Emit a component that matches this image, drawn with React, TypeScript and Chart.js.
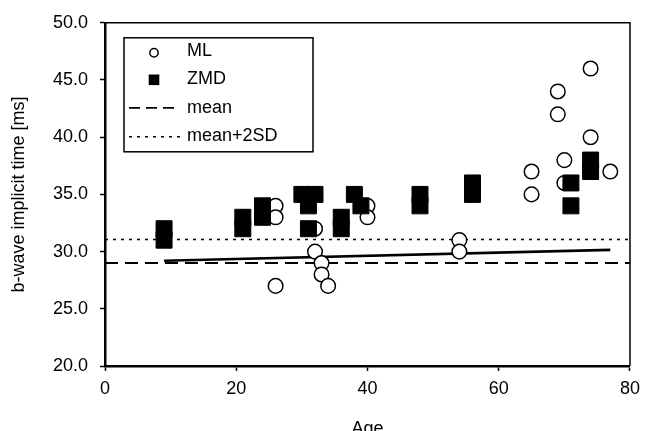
import React, { useEffect, useRef } from 'react';
import { Chart, registerables } from 'chart.js';

Chart.register(...registerables);

// ---- data ----
const mlAge = [26, 26, 26, 32, 32, 33, 33, 34, 40, 40, 54, 54, 65, 65, 69, 69, 70, 70, 74, 74, 77];
const mlTime = [34, 33, 27, 32, 30, 29, 28, 27, 34, 33, 31, 30, 37, 35, 44, 42, 38, 36, 46, 40, 37];

const zmdAge = [9, 9, 21, 21, 24, 24, 30, 32, 31, 31, 36, 36, 38, 39, 48, 48, 56, 56, 71, 71, 74, 74];
const zmdTime = [32, 31, 33, 32, 34, 33, 35, 35, 34, 32, 33, 32, 35, 34, 35, 34, 36, 35, 36, 34, 38, 37];

const meanAge = [0, 80];
const meanTime = [29.0, 29.0];

const sdAge = [0, 80];
const sdTime = [31.05, 31.05];

const fitAge = [9, 77];
const fitTime = [29.2, 30.15];

const seriesLabels = ['ML', 'ZMD', 'mean', 'mean+2SD'];
const xTitle = 'Age';
const yTitle = 'b-wave implicit time [ms]';

const FONT = 'Liberation Sans, Arial, Helvetica, sans-serif';
const FS = 18;

const pts = (xs: number[], ys: number[]) => xs.map((x, i) => ({ x, y: ys[i] }));

const framePlugin = {
  id: 'frame',
  beforeDatasetsDraw(chart: any) {
    const { ctx, chartArea } = chart;
    ctx.save();
    ctx.strokeStyle = '#000';
    ctx.lineWidth = 1.5;
    ctx.beginPath();
    ctx.moveTo(chartArea.left, chartArea.top);
    ctx.lineTo(chartArea.right, chartArea.top);
    ctx.lineTo(chartArea.right, chartArea.bottom);
    ctx.stroke();
    ctx.restore();
  },
};

const legendPlugin = {
  id: 'boxLegend',
  afterDraw(chart: any) {
    const { ctx, chartArea } = chart;
    const x0 = chartArea.left + 19;
    const y0 = chartArea.top + 15;
    const w = 189;
    const h = 114;
    ctx.save();
    ctx.fillStyle = '#fff';
    ctx.fillRect(x0, y0, w, h);
    ctx.strokeStyle = '#000';
    ctx.lineWidth = 1.5;
    ctx.strokeRect(x0, y0, w, h);

    const markerY = [15, 42, 70, 99];
    const textY = [18, 46, 75, 103];
    const mx = x0 + 30;

    // ML circle
    ctx.beginPath();
    ctx.arc(mx, y0 + markerY[0], 4.2, 0, Math.PI * 2);
    ctx.fillStyle = '#fff';
    ctx.fill();
    ctx.lineWidth = 1.5;
    ctx.strokeStyle = '#000';
    ctx.stroke();
    // ZMD square
    ctx.fillStyle = '#000';
    ctx.fillRect(mx - 5.3, y0 + markerY[1] - 5.3, 10.6, 10.6);
    // mean dashed
    ctx.beginPath();
    ctx.setLineDash([11, 6]);
    ctx.lineWidth = 1.8;
    ctx.moveTo(x0 + 5, y0 + markerY[2]);
    ctx.lineTo(x0 + 54, y0 + markerY[2]);
    ctx.stroke();
    // mean+2SD dotted
    ctx.beginPath();
    ctx.setLineDash([3, 5]);
    ctx.lineWidth = 1.5;
    ctx.moveTo(x0 + 5, y0 + markerY[3]);
    ctx.lineTo(x0 + 58, y0 + markerY[3]);
    ctx.stroke();
    ctx.setLineDash([]);

    ctx.fillStyle = '#000';
    ctx.font = `${FS}px ${FONT}`;
    ctx.textAlign = 'left';
    ctx.textBaseline = 'alphabetic';
    seriesLabels.forEach((t, i) => {
      ctx.fillText(t, x0 + 63, y0 + textY[i]);
    });
    ctx.restore();
  },
};

export default function App() {
  const ref = useRef<HTMLCanvasElement | null>(null);

  useEffect(() => {
    if (!ref.current) return;
    const chart = new Chart(ref.current, {
      type: 'scatter',
      data: {
        datasets: [
          {
            label: seriesLabels[0],
            data: pts(mlAge, mlTime),
            pointStyle: 'circle',
            pointRadius: 7.3,
            pointBorderWidth: 1.5,
            pointBackgroundColor: '#fff',
            pointBorderColor: '#000',
            showLine: false,
            order: 1,
          },
          {
            label: seriesLabels[1],
            data: pts(zmdAge, zmdTime),
            pointStyle: 'rect',
            pointRadius: 11.3,
            pointBorderWidth: 1,
            pointBackgroundColor: '#000',
            pointBorderColor: '#000',
            showLine: false,
            order: 0,
          },
          {
            label: seriesLabels[2],
            data: pts(meanAge, meanTime),
            showLine: true,
            borderColor: '#000',
            borderWidth: 2,
            borderDash: [13, 7],
            pointRadius: 0,
            order: 3,
          },
          {
            label: seriesLabels[3],
            data: pts(sdAge, sdTime),
            showLine: true,
            borderColor: '#000',
            borderWidth: 1.5,
            borderDash: [3, 5],
            pointRadius: 0,
            order: 4,
          },
          {
            label: 'fit',
            data: pts(fitAge, fitTime),
            showLine: true,
            borderColor: '#000',
            borderWidth: 2.6,
            pointRadius: 0,
            order: 2,
          },
        ],
      },
      options: {
        animation: false,
        responsive: false,
        devicePixelRatio: 1,
        layout: { padding: { left: 0, top: 22, right: 10, bottom: 0 } },
        plugins: {
          legend: { display: false },
          tooltip: { enabled: false },
        },
        scales: {
          x: {
            type: 'linear',
            min: 0,
            max: 80,
            ticks: {
              stepSize: 20,
              color: '#000',
              font: { family: FONT, size: FS },
              padding: 7,
              callback: (v: any) => String(v),
            },
            grid: {
              display: true,
              drawOnChartArea: false,
              drawTicks: true,
              tickLength: 5,
              tickWidth: 1.5,
              tickColor: '#000',
            },
            border: { display: true, color: '#000', width: 2.5 },
            title: {
              display: true,
              text: xTitle,
              color: '#000',
              font: { family: FONT, size: FS },
              padding: { top: 0, bottom: 5 },
            },
            afterFit: (s: any) => {
              s.height = 79;
            },
          },
          y: {
            type: 'linear',
            min: 20,
            max: 50,
            ticks: {
              stepSize: 5,
              color: '#000',
              font: { family: FONT, size: FS },
              padding: 12,
              callback: (v: any) => Number(v).toFixed(1),
            },
            grid: {
              display: true,
              drawOnChartArea: false,
              drawTicks: true,
              tickLength: 5,
              tickWidth: 1.5,
              tickColor: '#000',
            },
            border: { display: true, color: '#000', width: 2.5 },
            title: {
              display: true,
              text: yTitle,
              color: '#000',
              font: { family: FONT, size: FS },
              padding: { top: 8, bottom: 0 },
            },
            afterFit: (s: any) => {
              s.width = 105;
            },
          },
        },
      },
      plugins: [framePlugin, legendPlugin],
    });
    return () => chart.destroy();
  }, []);

  return (
    <div style={{ position: 'absolute', left: 0, top: 0, width: 647, height: 445, background: '#fff' }}>
      <canvas ref={ref} width={647} height={445} style={{ display: 'block', width: 647, height: 445 }} />
    </div>
  );
}
